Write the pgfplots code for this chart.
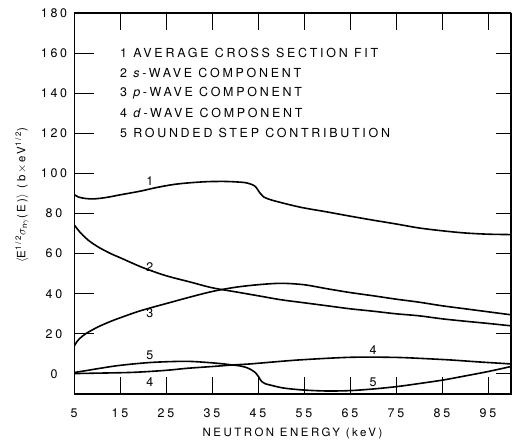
\documentclass[border=0pt]{standalone}
\usepackage{fontspec}
\setmainfont{TeX Gyre Heros}[LetterSpace=22]
\usepackage{pgfplots}
\pgfplotsset{compat=1.18}
\newcommand{\lbl}{\fontsize{12.5}{15}\selectfont}
\begin{document}
\begin{tikzpicture}
\begin{axis}[
  name=ax,
  scale only axis,
  width=437bp, height=381bp,
  xmin=5, xmax=100, ymin=-10, ymax=180,
  xtick={5,15,...,95},
  ytick={0,20,...,180},
  tick align=inside,
  major tick length=15bp,
  major tick style={black, line width=1bp},
  /pgf/number format/assume math mode=true,
  tick label style={font=\lbl},
  yticklabel style={anchor=center, xshift=-20bp},
  xticklabel style={anchor=center, yshift=-19bp},
  xlabel={NEUTRON ENERGY (keV)},
  xlabel style={font=\fontsize{11.5}{14}\selectfont, at={(axis description cs:0.5,0)}, anchor=center, yshift=-39bp},
  ylabel={$\langle$E\textsuperscript{1/2}$\sigma_{\mathrm{n}\gamma}$(E)$\rangle$ (b$\,\times\,$eV\textsuperscript{1/2})},
  ylabel style={font=\fontsize{11.5}{14}\selectfont, at={(axis description cs:-0.119,0.522)}, anchor=center},
  curve/.style={black, line width=1.6bp, smooth, mark=none},
  tk/.style={black, line width=1bp, mark=none, forget plot},
  unbounded coords=jump,
]
% 1 average cross section fit
\addplot[curve] coordinates {(5,89.5)(6,88.2)(7.5,87.5)(9.3,87.3)(12,88)(15,89.3)(19.5,91.2)(23,93)(26.7,94.5)(30,95.3)(34,95.9)(37.6,96)(40,95.8)(42.5,95.3)(44.3,93.7)(45.4,90.3)(46.2,88.3)(48.3,86.5)(54.1,83.2)(60,80.8)(65,78.7)(70,76.7)(75,74.8)(80,72.8)(85,71.4)(90,70.3)(95,69.7)(100,69.5)};
% 2 s-wave
\addplot[curve] coordinates {(5,74.5)(6,71.5)(7,69)(8.5,66)(10.5,63)(13,60)(15,58)(20,53)(25,49)(30,46)(35,43)(40,41)(45,39)(50,37)(55,35.5)(60,34)(65,32.5)(70,31.3)(75,30)(80,29)(85,27.5)(90,26.3)(95,25.2)(100,24)};
% 3 p-wave
\addplot[curve] coordinates {(5,13.7)(5.6,16)(6.4,18)(7.5,20)(9,22)(11,24.3)(13.5,26.7)(16,28.8)(19,31.2)(22,33.2)(25.2,35.2)(30,38.2)(35,41.1)(40,43.2)(45,44.5)(50,45.2)(55,44.5)(60,42.5)(65,40.6)(70,39)(75,37.3)(80,35.8)(85,34)(90,32.5)(95,31)(100,29.5)};
% 4 d-wave
\addplot[curve] coordinates {(5,0.2)(10,0.4)(17.9,0.8)(25,1.8)(29.5,2.8)(35,3.7)(39.6,4.5)(43.3,5)(50,6.3)(54,7)(60,7.8)(65,8.3)(70,8.4)(75.9,8.2)(80,7.8)(86.7,7)(93,6)(100,5)};
% 5 rounded step
\addplot[curve] coordinates {(5,0.7)(8,1.8)(10.6,2.8)(14,4)(17.9,5)(21.5,5.7)(25.2,6.1)(29.5,6.3)(33,5.9)(36.7,5.2)(39,4.6)(41.1,4)(42.5,3.2)(43.6,2)(44.5,0.5)(45.1,-1.3)(45.8,-3.8)(46.5,-4.8)(47.6,-5.5)(50.5,-7)(54.8,-8)(60,-8.5)(65,-8.3)(70,-7.5)(75.2,-6.3)(80,-4.8)(85.3,-3)(90,-1)(95,1.2)(100,3.7)};
% tick marks as short segments in axis units
\addplot[tk] coordinates {(15,-10)(15,-1.5)(15,inf)(25,-10)(25,-1.5)(25,inf)(35,-10)(35,-1.5)(35,inf)(45,-10)(45,-1.5)(45,inf)(55,-10)(55,-1.5)(55,inf)(65,-10)(65,-1.5)(65,inf)(75,-10)(75,-1.5)(75,inf)(85,-10)(85,-1.5)(85,inf)(95,-10)(95,-1.5)};
\addplot[tk] coordinates {(15,180)(15,171.5)(15,inf)(25,180)(25,171.5)(25,inf)(35,180)(35,171.5)(35,inf)(45,180)(45,171.5)(45,inf)(55,180)(55,171.5)(55,inf)(65,180)(65,171.5)(65,inf)(75,180)(75,171.5)(75,inf)(85,180)(85,171.5)(85,inf)(95,180)(95,171.5)};
\addplot[tk] coordinates {(5,0)(9.35,0)(inf,0)(5,20)(9.35,20)(inf,20)(5,40)(9.35,40)(inf,40)(5,60)(9.35,60)(inf,60)(5,80)(9.35,80)(inf,80)(5,100)(9.35,100)(inf,100)(5,120)(9.35,120)(inf,120)(5,140)(9.35,140)(inf,140)(5,160)(9.35,160)};
\addplot[tk] coordinates {(100,0)(96.7,0)(inf,0)(100,20)(96.7,20)(inf,20)(100,40)(96.7,40)(inf,40)(100,60)(96.7,60)(inf,60)(100,80)(96.7,80)(inf,80)(100,100)(96.7,100)(inf,100)(100,120)(96.7,120)(inf,120)(100,140)(96.7,140)(inf,140)(100,160)(96.7,160)};
\draw[black, line width=1.3bp] (axis cs:5,-10) rectangle (axis cs:100,180);
% curve labels
\node[font=\lbl] at (axis cs:21.5,96) {1};
\node[font=\lbl] at (axis cs:21.5,53.5) {2};
\node[font=\lbl] at (axis cs:21.5,30.5) {3};
\node[font=\lbl] at (axis cs:21.5,9.5) {5};
\node[font=\lbl] at (axis cs:21.5,-4) {4};
\node[font=\lbl] at (axis cs:70,12) {4};
\node[font=\lbl] at (axis cs:70,-4) {5};
% legend text
\node[font=\lbl, anchor=west, inner sep=0pt] at (axis cs:15,160) {1 AVERAGE CROSS SECTION FIT};
\node[font=\lbl, anchor=west, inner sep=0pt] at (axis cs:15,150) {2 \textit{s}-WAVE COMPONENT};
\node[font=\lbl, anchor=west, inner sep=0pt] at (axis cs:15,140) {3 \textit{p}-WAVE COMPONENT};
\node[font=\lbl, anchor=west, inner sep=0pt] at (axis cs:15,130) {4 \textit{d}-WAVE COMPONENT};
\node[font=\lbl, anchor=west, inner sep=0pt] at (axis cs:15,120) {5 ROUNDED STEP CONTRIBUTION};
\end{axis}
\pgfresetboundingbox
\path[use as bounding box] ([xshift=-74bp,yshift=-47bp]ax.south west) rectangle ([xshift=2bp,yshift=13bp]ax.north east);
\end{tikzpicture}
\end{document}
